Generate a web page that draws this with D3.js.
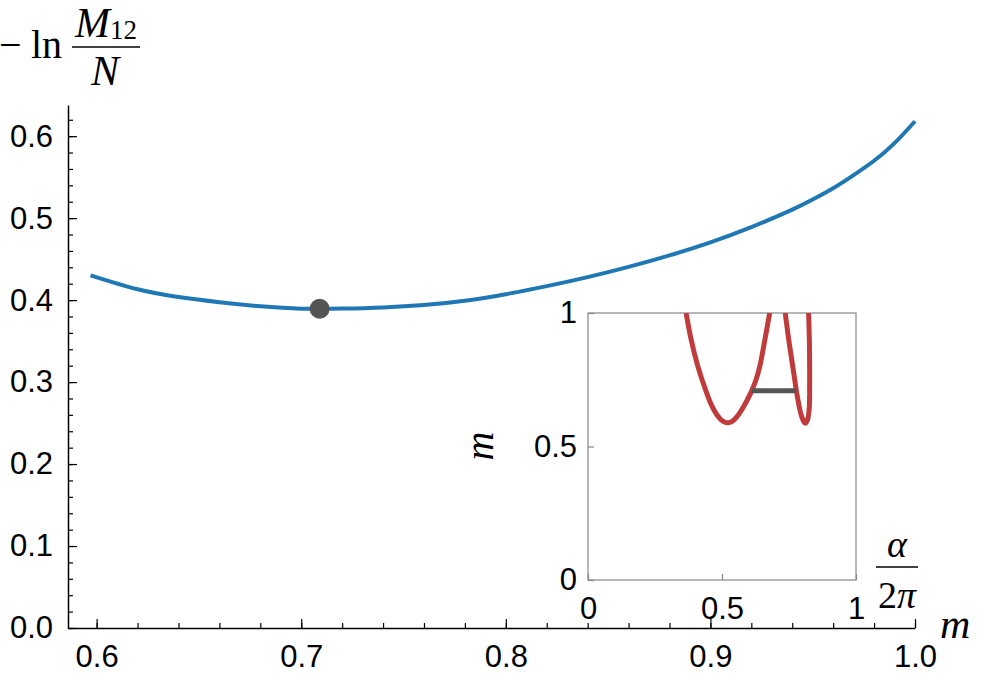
<!DOCTYPE html>
<html>
<head>
<meta charset="utf-8">
<script src="https://cdn.jsdelivr.net/npm/d3@7"></script>
<style>
  body { margin: 0; background: #fff; }
  svg { display: block; }
  .tick text { font-family: "Liberation Sans", Arial, sans-serif; font-size: 31px; fill: #000; }
  .math { font-family: "Liberation Serif", "DejaVu Serif", serif; fill: #000; }
</style>
</head>
<body>
<div id="chart"></div>
<script>
// main curve: -ln(M12/N) against m
const mValues = [0.597, 0.62, 0.64, 0.66, 0.68, 0.70, 0.72, 0.74, 0.76, 0.78, 0.80, 0.82, 0.84, 0.86, 0.88, 0.90, 0.92, 0.94, 0.95, 0.96, 0.97, 0.98, 0.99, 1.00];
const lnValues = [0.4302, 0.4132, 0.4037, 0.3974, 0.3925, 0.3896, 0.3897, 0.3911, 0.3940, 0.3992, 0.4072, 0.4170, 0.4280, 0.4405, 0.4545, 0.4705, 0.4890, 0.5104, 0.5228, 0.5365, 0.5525, 0.5700, 0.5915, 0.6182];

// marked point
const markM = 0.709;
const markLn = 0.3894;

// main axis ticks
const xMajor = [0.6, 0.7, 0.8, 0.9, 1.0];
const xMinor = d3.range(0.6, 1.001, 0.02);
const yMajor = [0.0, 0.1, 0.2, 0.3, 0.4, 0.5, 0.6];
const yMinor = d3.range(0, 0.621, 0.02);

// inset: two branches of m against alpha / 2pi
const branchAAlpha = [0.366, 0.385, 0.410, 0.443, 0.463, 0.480, 0.497, 0.509, 0.521, 0.533, 0.545, 0.562, 0.581, 0.607, 0.627, 0.641, 0.660, 0.678];
const branchAM     = [1.00, 0.90, 0.80, 0.70, 0.65, 0.62, 0.600, 0.592, 0.589, 0.592, 0.600, 0.62, 0.65, 0.70, 0.75, 0.80, 0.90, 1.00];
const branchBAlpha = [0.736, 0.749, 0.764, 0.779, 0.788, 0.795, 0.802, 0.811, 0.819, 0.823, 0.826, 0.827, 0.827, 0.826, 0.823];
const branchBM     = [1.00, 0.90, 0.80, 0.70, 0.65, 0.62, 0.60, 0.587, 0.60, 0.62, 0.65, 0.70, 0.80, 0.90, 1.00];
const segmentAlpha = [0.611, 0.777];
const segmentM = 0.709;
const insetTicks = [0, 0.5, 1];
const insetTickLabels = ["0", "0.5", "1"];

const width = 987, height = 698;
const blue = "#1f77b4", red = "#c03c3c", dark = "#555555";

const svg = d3.select("#chart").append("svg")
    .attr("width", width)
    .attr("height", height);

const x = d3.scaleLinear().domain([0.586, 1.0]).range([68, 915]);
const y = d3.scaleLinear().domain([0, 0.638]).range([628, 105]);

// axes, ticks pointing inward
const xAxisG = svg.append("g").attr("transform", `translate(0,${y(0)})`);
xAxisG.append("g")
    .call(d3.axisBottom(x).tickValues(xMinor).tickSize(-5).tickFormat(""))
    .call(g => g.select(".domain").remove());
xAxisG.append("g")
    .call(d3.axisBottom(x).tickValues(xMajor).tickSizeInner(-9).tickSizeOuter(0).tickPadding(17).tickFormat(d3.format(".1f")));

const yAxisG = svg.append("g").attr("transform", `translate(${x(0.586)},0)`);
yAxisG.append("g")
    .call(d3.axisLeft(y).tickValues(yMinor).tickSize(-5).tickFormat(""))
    .call(g => g.select(".domain").remove());
yAxisG.append("g")
    .call(d3.axisLeft(y).tickValues(yMajor).tickSizeInner(-9).tickSizeOuter(0).tickPadding(15).tickFormat(d3.format(".1f")));

svg.selectAll(".domain").attr("stroke", "#000").attr("stroke-width", 1.5);
svg.selectAll(".tick line").attr("stroke", "#000").attr("stroke-width", 1.2);

// main curve
const mainData = mValues.map((m, i) => [m, lnValues[i]]);
svg.append("path")
    .datum(mainData)
    .attr("fill", "none")
    .attr("stroke", blue)
    .attr("stroke-width", 4)
    .attr("d", d3.line().x(d => x(d[0])).y(d => y(d[1])).curve(d3.curveNatural));

svg.append("circle")
    .attr("cx", x(markM))
    .attr("cy", y(markLn))
    .attr("r", 10)
    .attr("fill", dark);

// y label: - ln M12 / N
const yl = svg.append("g").attr("class", "math");
yl.append("text").attr("x", -1).attr("y", 58).attr("font-size", 40).text("\u2212");
yl.append("text").attr("x", 31).attr("y", 58).attr("font-size", 40).text("ln");
const num = yl.append("text").attr("x", 75).attr("y", 37).attr("font-size", 42);
num.append("tspan").attr("font-style", "italic").text("M");
num.append("tspan").attr("font-size", 27).attr("dy", 2).text("12");
yl.append("line").attr("x1", 72).attr("x2", 140).attr("y1", 47).attr("y2", 47)
    .attr("stroke", "#000").attr("stroke-width", 1.6);
yl.append("text").attr("x", 105).attr("y", 85).attr("font-size", 42)
    .attr("font-style", "italic").attr("text-anchor", "middle").text("N");

// x label: m
svg.append("text").attr("class", "math")
    .attr("x", 940).attr("y", 638).attr("font-size", 42)
    .attr("font-style", "italic").text("m");

// inset
const ix = d3.scaleLinear().domain([0, 1]).range([588, 856]);
const iy = d3.scaleLinear().domain([0, 1]).range([580, 313]);

const inset = svg.append("g");
inset.append("rect")
    .attr("x", ix(0)).attr("y", iy(1))
    .attr("width", ix(1) - ix(0)).attr("height", iy(0) - iy(1))
    .attr("fill", "#fff").attr("stroke", "#888").attr("stroke-width", 1.2);

inset.append("g")
    .attr("transform", `translate(0,${iy(0)})`)
    .call(d3.axisBottom(ix).tickValues(insetTicks).tickSizeInner(-6).tickSizeOuter(0).tickPadding(17)
        .tickFormat((d, i) => insetTickLabels[i]))
    .call(g => g.select(".domain").remove());
inset.append("g")
    .attr("transform", `translate(${ix(0)},0)`)
    .call(d3.axisLeft(iy).tickValues(insetTicks).tickSizeInner(-6).tickSizeOuter(0).tickPadding(11)
        .tickFormat((d, i) => insetTickLabels[i]))
    .call(g => g.select(".domain").remove());
inset.selectAll(".tick line").attr("stroke", "#888").attr("stroke-width", 1.2);

svg.append("clipPath").attr("id", "inset-clip")
    .append("rect")
    .attr("x", ix(0)).attr("y", iy(1))
    .attr("width", ix(1) - ix(0)).attr("height", iy(0) - iy(1));

const insetLine = d3.line().x(d => ix(d[0])).y(d => iy(d[1])).curve(d3.curveCatmullRom.alpha(0.5));
const curves = inset.append("g").attr("clip-path", "url(#inset-clip)");
[[branchAAlpha, branchAM], [branchBAlpha, branchBM]].forEach(([a, m]) => {
    curves.append("path")
        .datum(a.map((v, i) => [v, m[i]]))
        .attr("fill", "none")
        .attr("stroke", red)
        .attr("stroke-width", 5)
        .attr("d", insetLine);
});
curves.append("path")
    .datum(segmentAlpha.map(a => [a, segmentM]))
    .attr("fill", "none")
    .attr("stroke", dark)
    .attr("stroke-width", 5)
    .attr("d", d3.line().x(d => ix(d[0])).y(d => iy(d[1])));

// inset labels
svg.append("text").attr("class", "math")
    .attr("transform", "translate(493,446) rotate(-90)")
    .attr("text-anchor", "middle").attr("font-size", 40)
    .attr("font-style", "italic").text("m");

const al = svg.append("g").attr("class", "math");
al.append("text").attr("x", 897).attr("y", 557).attr("font-size", 38)
    .attr("font-style", "italic").attr("text-anchor", "middle").text("\u03b1");
al.append("line").attr("x1", 876).attr("x2", 918).attr("y1", 567).attr("y2", 567)
    .attr("stroke", "#000").attr("stroke-width", 1.6);
const den = al.append("text").attr("x", 897).attr("y", 608).attr("font-size", 38)
    .attr("text-anchor", "middle");
den.append("tspan").text("2");
den.append("tspan").attr("font-style", "italic").text("\u03c0");
</script>
</body>
</html>
